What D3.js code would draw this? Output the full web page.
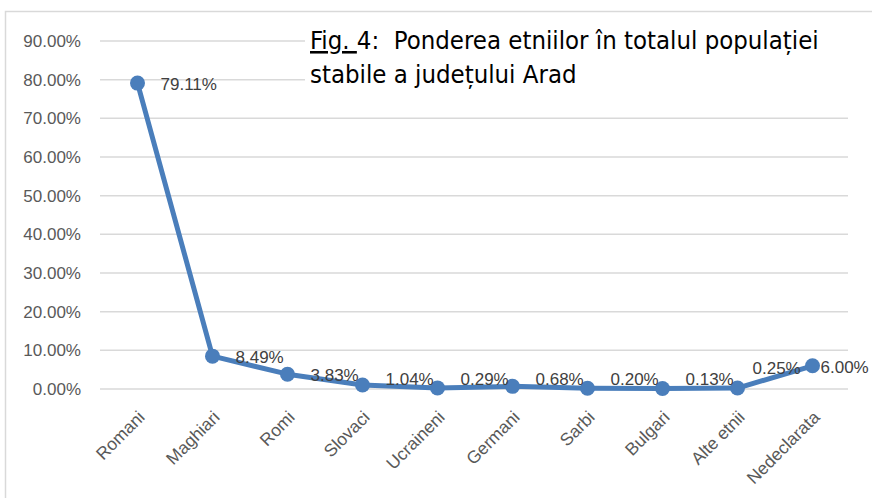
<!DOCTYPE html>
<html>
<head>
<meta charset="utf-8">
<script src="https://cdn.jsdelivr.net/npm/d3@7"></script>
<style>
  body { margin: 0; background: #fff; }
  svg { display: block; }
</style>
</head>
<body>
<div id="vis"></div>
<script>
const categories = ['Romani', 'Maghiari', 'Romi', 'Slovaci', 'Ucraineni', 'Germani', 'Sarbi', 'Bulgari', 'Alte etnii', 'Nedeclarata'];
const values = [79.11, 8.49, 3.83, 1.04, 0.29, 0.68, 0.20, 0.13, 0.25, 6.00];
const yTicks = [0, 10, 20, 30, 40, 50, 60, 70, 80, 90];

const width = 872;
const height = 498;
const blue = '#4a7ebb';
const font = 'Liberation Sans, Arial, sans-serif';

const svg = d3.select('#vis')
    .append('svg')
    .attr('width', width)
    .attr('height', height);

// chart frame
svg.append('rect')
    .attr('x', 5.5).attr('y', 11.5)
    .attr('width', 880).attr('height', 500)
    .style('fill', '#fff')
    .style('stroke', '#d9d9d9')
    .style('stroke-width', 1.5);

const x = d3.scaleBand()
    .domain(categories)
    .range([100, 850]);

const y = d3.scaleLinear()
    .domain([0, 90])
    .range([389, 41]);

// gridlines
svg.append('g')
    .selectAll('line')
    .data(yTicks)
    .join('line')
    .attr('x1', 100).attr('x2', 848)
    .attr('y1', d => y(d)).attr('y2', d => y(d))
    .style('stroke', '#d9d9d9')
    .style('stroke-width', 1.5);

// y axis labels
const yAxis = svg.append('g')
    .attr('transform', 'translate(81,0)')
    .call(d3.axisLeft(y).tickValues(yTicks).tickSize(0).tickPadding(0)
        .tickFormat(d => d.toFixed(2) + '%'));
yAxis.select('.domain').remove();
yAxis.selectAll('text')
    .style('font-family', font)
    .style('font-size', '17px')
    .style('fill', '#595959');

// x axis labels, rotated
const xAxis = svg.append('g')
    .attr('transform', 'translate(0,398)')
    .call(d3.axisBottom(x).tickSize(0).tickPadding(0));
xAxis.select('.domain').remove();
xAxis.selectAll('text')
    .attr('text-anchor', 'end')
    .attr('y', 0)
    .attr('dy', '0.35em')
    .attr('transform', 'translate(4,16) rotate(-45)')
    .style('font-family', font)
    .style('font-size', '17.5px')
    .style('fill', '#595959');

// title box (covers the gridlines behind it)
svg.append('rect')
    .attr('x', 305).attr('y', 24)
    .attr('width', 545).attr('height', 72)
    .style('fill', '#fff');

const title = svg.append('text')
    .style('font-family', 'DejaVu Sans Condensed, DejaVu Sans, sans-serif')
    .style('font-size', '25.5px')
    .style('white-space', 'pre')
    .style('fill', '#000');
const t1 = title.append('tspan').attr('x', 310).attr('y', 49);
t1.append('tspan').style('text-decoration', 'underline').text('Fig. ');
t1.append('tspan').text('4:  Ponderea etniilor în totalul populației');
title.append('tspan').attr('x', 310).attr('y', 83).text('stabile a județului Arad');

// line
const pts = categories.map((c, i) => ({ c, v: values[i] }));
const cx = d => x(d.c) + x.bandwidth() / 2;
const line = d3.line()
    .x(cx)
    .y(d => y(d.v));

svg.append('path')
    .datum(pts)
    .attr('d', line)
    .style('fill', 'none')
    .style('stroke', blue)
    .style('stroke-width', 5)
    .style('stroke-linejoin', 'round');

svg.append('g')
    .selectAll('circle')
    .data(pts)
    .join('circle')
    .attr('cx', cx)
    .attr('cy', d => y(d.v))
    .attr('r', 7.5)
    .style('fill', blue);

// data labels right of the points; near the axis they are lifted,
// the last two were moved by hand in the original
const labelShift = { 'Alte etnii': [-8, -11], 'Nedeclarata': [-15, 0] };
svg.append('g')
    .selectAll('text')
    .data(pts)
    .join('text')
    .attr('x', d => cx(d) + 23 + (labelShift[d.c] ? labelShift[d.c][0] : 0))
    .attr('y', d => Math.min(y(d.v) + 1, y(0) - 10) + (labelShift[d.c] ? labelShift[d.c][1] : 0))
    .attr('dy', '0.35em')
    .style('font-family', font)
    .style('font-size', '17px')
    .style('fill', '#404040')
    .text(d => d.v.toFixed(2) + '%');
</script>
</body>
</html>
